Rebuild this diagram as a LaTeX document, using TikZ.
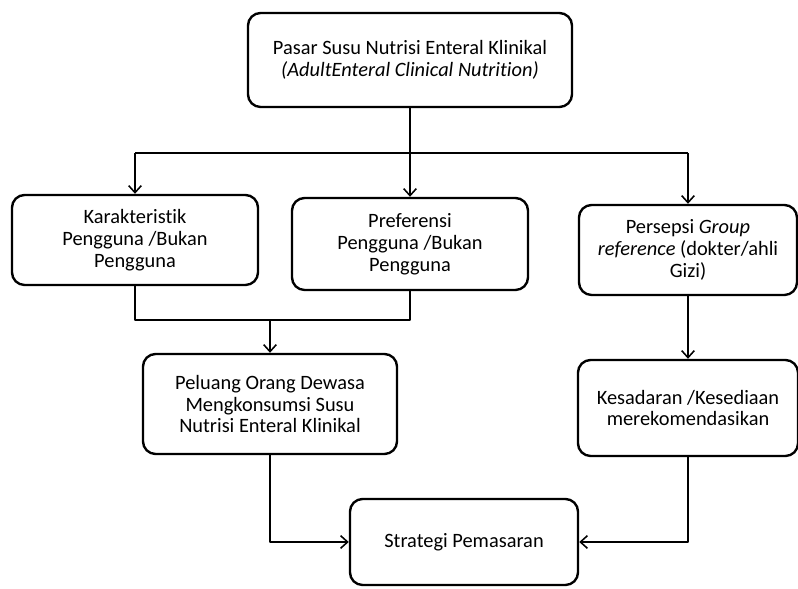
\documentclass[tikz,border=0pt]{standalone}
\usepackage{fontspec}
\setmainfont{Carlito}[Ligatures=NoCommon]
\usetikzlibrary{arrows.meta,positioning,calc}
\tikzset{
kotak/.style={draw, line width=1.7pt, rounded corners=9pt, align=center, inner sep=2pt,
  font=\fontsize{14.5}{15.5}\selectfont},
garis/.style={line width=1.2pt},
panah/.style={line width=1.1pt, -{Straight Barb[length=5pt,width=9pt,line width=1.1pt]}}
}
\begin{document}
\begin{tikzpicture}[line join=round, x=0.025cm, y=-0.025cm]
\useasboundingbox (0,0) rectangle (798,589);
\node[kotak, minimum width=8.1cm,  minimum height=2.35cm] (pasar)     at (410,60)
  {Pasar Susu Nutrisi Enteral Klinikal\\\textit{(AdultEnteral Clinical Nutrition)}};
\node[kotak, minimum width=6.15cm, minimum height=2.25cm] (kar)       at (135,240)
  {Karakteristik\\Pengguna /Bukan\\Pengguna};
\node[kotak, minimum width=5.9cm,  minimum height=2.3cm]  (pref)      at (410,244)
  {Preferensi\\Pengguna /Bukan\\Pengguna};
\node[kotak, minimum width=5.45cm, minimum height=2.25cm] (persepsi)  at (688,250)
  {Persepsi \textit{Group}\\\textit{reference} (dokter/ahli\\Gizi)};
\node[kotak, minimum width=6.35cm, minimum height=2.5cm]  (peluang)   at (270,404)
  {Peluang Orang Dewasa\\Mengkonsumsi Susu\\Nutrisi Enteral Klinikal};
\node[kotak, minimum width=5.5cm,  minimum height=2.4cm]  (kesadaran) at (688,408)
  {Kesadaran /Kesediaan\\merekomendasikan};
\node[kotak, minimum width=5.7cm,  minimum height=2.15cm] (strategi)  at (464,542)
  {Strategi Pemasaran};
\coordinate (cabang) at (410,153);
\coordinate (gabung) at (270,320);
\draw[line width=1.5pt] (pasar.south) -- (cabang);
\draw[garis] (kar.north |- cabang) -- (persepsi.north |- cabang);
\draw[panah] (kar.north |- cabang) -- (kar.north);
\draw[panah] (cabang) -- (pref.north);
\draw[panah] (persepsi.north |- cabang) -- (persepsi.north);
\draw[garis] (kar.south) -- (kar.south |- gabung) -- (pref.south |- gabung) -- (pref.south);
\draw[panah] (gabung) -- (peluang.north);
\draw[panah] (persepsi.south) -- (kesadaran.north);
\draw[panah] (peluang.south) |- (strategi.west);
\draw[panah] (kesadaran.south) |- (strategi.east);
\end{tikzpicture}
\end{document}
